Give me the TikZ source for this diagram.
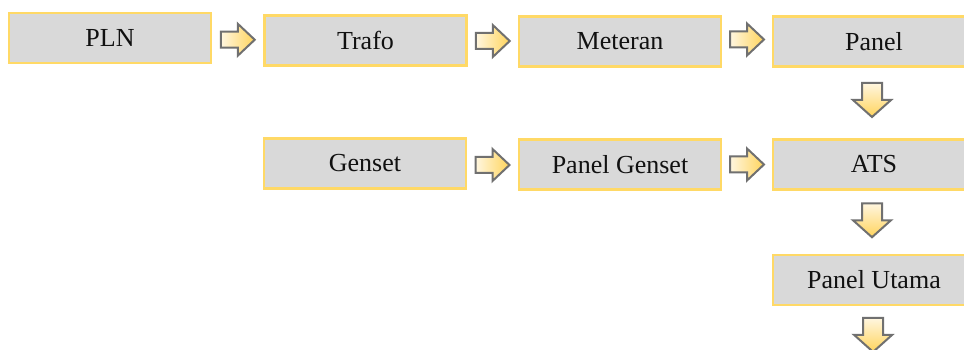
\documentclass[tikz,border=0pt]{standalone}
\usepackage{fontspec}
\setmainfont{Liberation Serif}
\usetikzlibrary{calc}
\definecolor{boxfill}{HTML}{D9D9D9}
\definecolor{boxline}{HTML}{FFD966}
\definecolor{arrline}{HTML}{707070}
\definecolor{arrlight}{HTML}{FFF6E0}
\definecolor{arrdark}{HTML}{FFD45C}
\definecolor{txt}{HTML}{111111}
\tikzset{
  flowbox/.style={draw=boxline, fill=boxfill, line width=2.4pt, minimum width=202pt, minimum height=50pt, inner sep=0pt, text=txt, font=\fontsize{26}{29}\selectfont},
  rarrsty/.style={draw=arrline, line width=2pt, line join=miter, left color=arrlight, right color=arrdark},
  darrsty/.style={draw=arrline, line width=2pt, line join=miter, top color=arrlight, bottom color=arrdark}
}
\newcommand\rarr[1]{\shadedraw[rarrsty] (#1) ++(-17,-8) -- ++(17,0) -- ++(0,-8) -- ++(17,16) -- ++(-17,16) -- ++(0,-8) -- ++(-17,0) -- cycle;}
\newcommand\darr[1]{\shadedraw[darrsty] (#1) ++(-10,-17) -- ++(20,0) -- ++(0,17) -- ++(9,0) -- ++(-19,17) -- ++(-19,-17) -- ++(9,0) -- cycle;}
\begin{document}
\begin{tikzpicture}[x=1pt,y=-1pt]
\useasboundingbox (0,0) rectangle (964,350);
\fill[white] (0,0) rectangle (964,350);
\node[flowbox] (pln) at (110,38) {PLN};
\node[flowbox] (trafo) at (365.5,40.5) {Trafo};
\node[flowbox] (meteran) at (620,41.5) {Meteran};
\node[flowbox] (panel) at (874,41.5) {Panel};
\node[flowbox] (genset) at (365,163.5) {Genset};
\node[flowbox] (pgenset) at (620,164.5) {Panel Genset};
\node[flowbox] (ats) at (874,164.5) {ATS};
\node[flowbox] (utama) at (874,280) {Panel Utama};
\coordinate (out) at (872,370);
\rarr{$($(pln.east)!0.5!(trafo.west)$)+(0,0.5)$}
\rarr{$($(trafo.east)!0.5!(meteran.west)$)+(0,0)$}
\rarr{$($(meteran.east)!0.5!(panel.west)$)+(0,-2)$}
\rarr{$($(genset.east)!0.5!(pgenset.west)$)+(0,1)$}
\rarr{$($(pgenset.east)!0.5!(ats.west)$)+(0,0)$}
\darr{$($(panel.south)!0.5!(ats.north)$)+(-2,-3)$}
\darr{$($(ats.south)!0.5!(utama.north)$)+(-2,-2)$}
\darr{$(utama.south)!0.45!(out)$}
\end{tikzpicture}
\end{document}
